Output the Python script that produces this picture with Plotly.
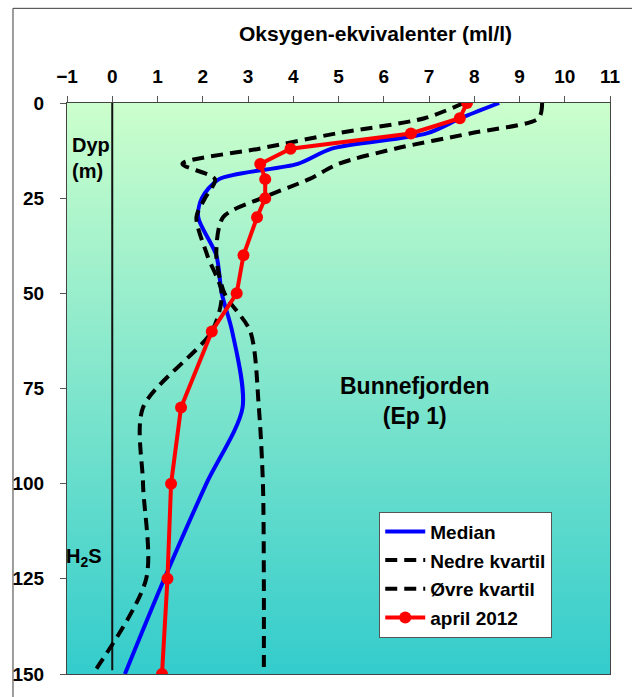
import base64
import plotly.graph_objects as go

# ---- data ----
depth = [0, 4, 8, 12, 16, 20, 25, 30, 40, 50, 60, 80, 100, 125, 150]
median = [8.55, 7.7, 6.95, 4.85, 4.1, 2.36, 1.98, 1.9, 2.3, 2.42, 2.65, 2.88, 2.08, 1.15, 0.28]
nedre = [7.77, 6.9, 4.95, 3.25, 1.55, 2.27, 2.05, 1.86, 2.1, 2.42, 2.2, 0.68, 0.68, 0.75, -0.43]
ovre = [9.5, 9.42, 7.9, 6.25, 5.0, 4.35, 3.3, 2.45, 2.3, 2.48, 3.05, 3.24, 3.33, 3.35, 3.35]
april = [7.84, 7.68, 6.6, 3.94, 3.27, 3.38, 3.38, 3.2, 2.9, 2.75, 2.2, 1.52, 1.3, 1.22, 1.1]
h2s_x = [0, 0]
h2s_y = [0, 149]
x_ticks = list(range(-1, 12))
y_ticks = [0, 25, 50, 75, 100, 125, 150]

FONT = "Liberation Sans"

fig = go.Figure()
fig.add_trace(go.Scatter(x=h2s_x, y=h2s_y, mode="lines", line=dict(color="#111111", width=2),
                         showlegend=False, hoverinfo="skip"))
fig.add_trace(go.Scatter(x=median, y=depth, mode="lines", name="Median", legendgroup="a",
                         line=dict(color="#0000FF", width=4, shape="spline", smoothing=0.8)))
fig.add_trace(go.Scatter(x=nedre, y=depth, mode="lines", name="Nedre kvartil", legendgroup="b",
                         line=dict(color="#000000", width=4, dash="12px,7px", shape="spline", smoothing=0.8)))
fig.add_trace(go.Scatter(x=ovre, y=depth, mode="lines", name="Øvre kvartil", legendgroup="c",
                         line=dict(color="#000000", width=4, dash="12px,7px", shape="spline", smoothing=0.8)))
fig.add_trace(go.Scatter(x=april, y=depth, mode="lines+markers", name="april 2012", legendgroup="d",
                         line=dict(color="#FF0000", width=4),
                         marker=dict(color="#FF0000", size=12)))

# gradient background as svg data uri
svg = ('<svg xmlns="http://www.w3.org/2000/svg" width="10" height="100" preserveAspectRatio="none">'
       '<defs><linearGradient id="g" x1="0" y1="0" x2="0" y2="1">'
       '<stop offset="0" stop-color="#CCFFCC"/><stop offset="1" stop-color="#33CCCC"/>'
       '</linearGradient></defs><rect width="10" height="100" fill="url(#g)"/></svg>')
src = "data:image/svg+xml;base64," + base64.b64encode(svg.encode()).decode()

L, T, R, B = 63, 103, 616, 676
W, H = 632, 697
pw, ph = R - L, B - T


def px(x):
    return (x - L) / pw


def py(y):
    return (B - y) / ph


tickfont = dict(family=FONT, size=19, color="black", weight="bold")

fig.update_layout(
    width=W, height=H,
    margin=dict(l=L, r=W - R, t=T, b=H - B, pad=0),
    paper_bgcolor="white",
    plot_bgcolor="rgba(0,0,0,0)",
    images=[dict(source=src, xref="paper", yref="paper", x=0, y=1, sizex=1, sizey=1,
                 sizing="stretch", layer="below", xanchor="left", yanchor="top")],
    xaxis=dict(side="top", range=[-1, 11], tickvals=x_ticks, ticks="outside", ticklen=6,
               tickcolor="#555555", showline=True, linecolor="#444444", mirror=True,
               showgrid=False, zeroline=False, tickfont=tickfont, ticklabelstandoff=5),
    xaxis2=dict(overlaying="x", side="top", range=[-1, 11], tickvals=x_ticks, ticks="inside",
                ticklen=6, tickcolor="#555555", showticklabels=False, showgrid=False,
                zeroline=False, showline=False),
    yaxis=dict(range=[150, 0], tickvals=y_ticks, ticks="outside", ticklen=6,
               tickcolor="#555555", showline=True, linecolor="#444444", mirror=True,
               showgrid=False, zeroline=False, tickfont=tickfont, ticklabelstandoff=12),
    yaxis2=dict(overlaying="y", side="left", range=[150, 0], tickvals=y_ticks, ticks="inside",
                ticklen=6, tickcolor="#555555", showticklabels=False, showgrid=False,
                zeroline=False, showline=False),
    legend=dict(x=px(381), y=py(513), xanchor="left", yanchor="top",
                bgcolor="white", bordercolor="#555555", borderwidth=1,
                font=dict(family=FONT, size=19, color="black", weight="bold"),
                tracegroupgap=1, itemwidth=40),
    showlegend=True,
    font=dict(family=FONT),
)

annots = [
    dict(text="Oksygen-ekvivalenter (ml/l)", x=px(377), y=py(33), size=21, xanchor="center"),
    dict(text="Dyp<br>(m)", x=px(66), y=py(158), size=20, xanchor="left", align="left"),
    dict(text="H<sub>2</sub>S", x=px(60), y=py(559), size=20, xanchor="left", align="left"),
    dict(text="Bunnefjorden<br>(Ep 1)", x=px(417), y=py(402), size=23, xanchor="center", align="center"),
]
for a in annots:
    fig.add_annotation(text=a["text"], x=a["x"], y=a["y"], xref="paper", yref="paper",
                       xanchor=a["xanchor"], yanchor="middle", showarrow=False,
                       align=a.get("align", "center"),
                       font=dict(family=FONT, size=a["size"], color="black", weight="bold"))

# outer frame (only top/left visible in the window)
fig.add_shape(type="rect", xref="paper", yref="paper", x0=px(8), y0=py(720), x1=px(660), y1=py(8),
              line=dict(color="#3c3c3c", width=1), fillcolor="rgba(0,0,0,0)", layer="below")

fig.write_html("out.html")
